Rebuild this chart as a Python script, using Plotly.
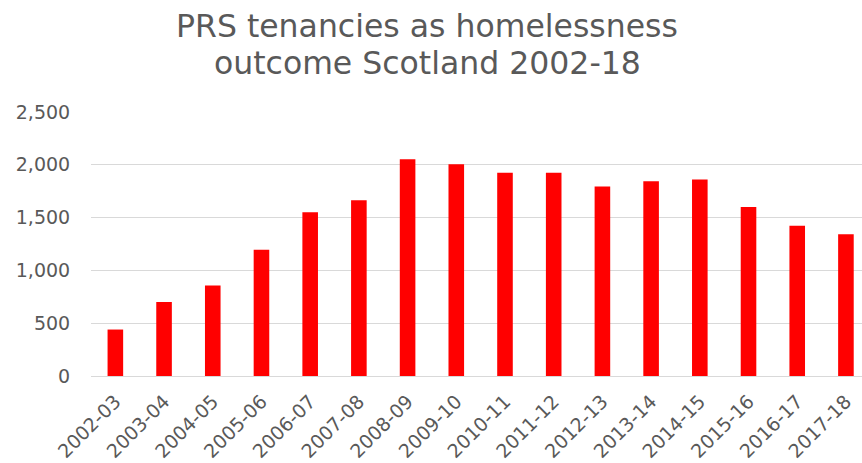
import plotly.graph_objects as go

# Financial years and PRS tenancy outcomes
years = ["2002-03", "2003-04", "2004-05", "2005-06", "2006-07", "2007-08",
         "2008-09", "2009-10", "2010-11", "2011-12", "2012-13", "2013-14",
         "2014-15", "2015-16", "2016-17", "2017-18"]
tenancies = [440, 700, 857, 1196, 1550, 1664, 2053, 2006, 1924, 1924,
             1794, 1845, 1860, 1601, 1424, 1342]

y_ticks = [0, 500, 1000, 1500, 2000, 2500]
y_tick_labels = ["0", "500", "1,000", "1,500", "2,000", "2,500"]

title_lines = ["PRS tenancies as homelessness", "outcome Scotland 2002-18"]

FONT = "DejaVu Sans"
GREY = "#595959"
CLEAR = "rgba(0,0,0,0)"

fig = go.Figure(
    go.Bar(
        x=list(range(len(years))),
        y=tenancies,
        marker=dict(color="#ff0000", line=dict(width=0)),
        width=0.32,
    )
)

fig.update_layout(
    width=862,
    height=463,
    margin=dict(l=91, r=0, t=112, b=87),
    paper_bgcolor="white",
    plot_bgcolor="white",
    showlegend=False,
    font=dict(family=FONT, color=GREY),
)

# Two-line chart title, placed above the plot area
for line, ypos in zip(title_lines, [1.325, 1.185]):
    fig.add_annotation(
        text=line,
        xref="paper", yref="paper",
        x=(427 - 91) / (862 - 91), y=ypos,
        xanchor="center", yanchor="middle",
        showarrow=False,
        font=dict(family=FONT, size=31.5, color=GREY),
    )

fig.update_xaxes(
    range=[-0.5, 15.33],
    tickmode="array",
    tickvals=list(range(len(years))),
    ticktext=years,
    tickangle=-45,
    tickfont=dict(size=19, color=GREY),
    showgrid=False,
    showline=False,
    zeroline=False,
    ticks="outside",
    ticklen=6,
    tickcolor=CLEAR,
)

fig.update_yaxes(
    range=[0, 2500],
    tickmode="array",
    tickvals=y_ticks,
    ticktext=y_tick_labels,
    tickfont=dict(size=19, color=GREY),
    showgrid=True,
    gridcolor="#d9d9d9",
    gridwidth=1,
    zeroline=True,
    zerolinecolor="#d9d9d9",
    zerolinewidth=1,
    showline=False,
    ticks="outside",
    ticklen=16,
    tickcolor=CLEAR,
)

fig.write_html("out.html")
